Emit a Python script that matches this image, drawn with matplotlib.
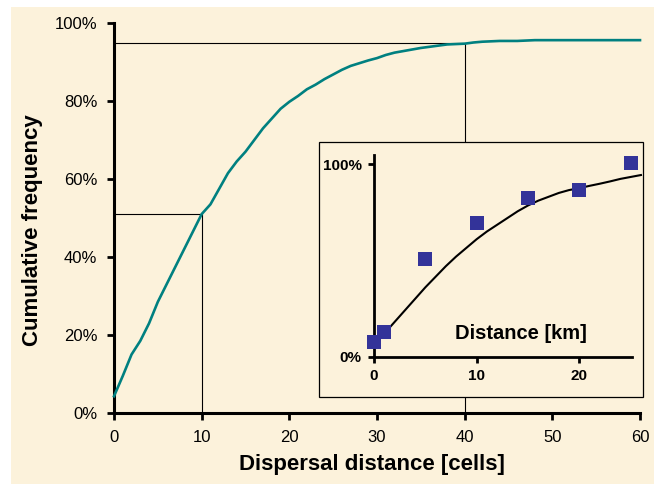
import matplotlib
matplotlib.use("Agg")
import matplotlib.pyplot as plt
from matplotlib.patches import Rectangle

plt.rcParams['font.family'] = ['Liberation Sans', 'DejaVu Sans']

# main curve: cumulative frequency vs dispersal distance (cells)
cells = list(range(0, 61))
cum_freq = [4.3, 9.5, 15.0, 18.5, 23.0, 28.5, 33.0, 37.5, 42.0, 46.5,
            51.0, 53.5, 57.5, 61.5, 64.5, 67.0, 70.0, 73.0, 75.5, 78.0,
            79.8, 81.3, 83.0, 84.2, 85.6, 86.8, 88.0, 89.0, 89.7, 90.4,
            91.0, 91.8, 92.4, 92.8, 93.2, 93.6, 93.9, 94.2, 94.5, 94.6,
            94.7, 95.0, 95.2, 95.3, 95.4, 95.4, 95.4, 95.5, 95.6, 95.6,
            95.6, 95.6, 95.6, 95.6, 95.6, 95.6, 95.6, 95.6, 95.6, 95.6,
            95.6]

# guide lines (x, y) for the two reference levels
guide_x = [10, 40]
guide_y = [51, 95]

# inset: observed points and fitted curve (km)
obs_km = [0, 1, 5, 10, 15, 20, 25]
obs_freq = [7.8, 13.0, 50.5, 69.2, 82.2, 86.5, 100.4]
fit_km = [1, 2, 3, 4, 5, 6, 7, 8, 9, 10, 11, 12, 13, 14, 15, 16, 17,
          18, 19, 20, 21, 22, 23, 24, 25, 26]
fit_freq = [12, 18, 24, 30, 36, 41.5, 47, 52, 56.5, 61, 65, 68.5, 72,
            75.5, 78.5, 81, 83, 85, 86.5, 87.5, 88.7, 89.8, 91, 92.3,
            93.3, 94.3]

paper = '#FCF2DB'

fig = plt.figure(figsize=(6.54, 4.84), dpi=100, facecolor='white')
fig.patches.append(Rectangle((11 / 654, 0), 1, 1 - 7 / 484,
                             transform=fig.transFigure, facecolor=paper,
                             edgecolor='none', zorder=-10))

ax = fig.add_axes([114 / 654, 1 - 413 / 484, 526 / 654, 390 / 484])
ax.set_facecolor('none')
ax.plot(cells, cum_freq, color='#008080', lw=1.9, clip_on=False, zorder=3)
for gx, gy in zip(guide_x, guide_y):
    ax.plot([0, gx, gx], [gy, gy, 0], color='black', lw=0.8, zorder=2)

ax.set_xlim(0, 60)
ax.set_ylim(0, 100)
ax.set_xticks(range(0, 61, 10))
ax.set_yticks(range(0, 101, 20))
ax.set_yticklabels([f'{v}%' for v in range(0, 101, 20)])
for s in ['top', 'right']:
    ax.spines[s].set_visible(False)
for s in ['left', 'bottom']:
    ax.spines[s].set_linewidth(2.2)
ax.tick_params(direction='out', length=5, width=2, labelsize=12, pad=7)
ax.set_xlabel('Dispersal distance [cells]', fontsize=16, fontweight='bold')
ax.set_ylabel('Cumulative frequency', fontsize=16, fontweight='bold')
ax.xaxis.set_label_coords(0.49, -0.105)
ax.yaxis.set_label_coords(-0.135, 0.47)

# inset frame
fig.patches.append(Rectangle((319 / 654, 1 - 397 / 484), 324 / 654, 255 / 484,
                             transform=fig.transFigure, facecolor=paper,
                             edgecolor='black', lw=0.9, zorder=5))

ins = fig.add_axes([374 / 654, 1 - 356.7 / 484, 257.7 / 654, 201.7 / 484])
ins.set_zorder(6)
ins.set_facecolor('none')
ins.plot(fit_km, fit_freq, color='black', lw=1.5, clip_on=False)
ins.plot(obs_km, obs_freq, 's', color='#333399', markersize=9.5,
         markeredgewidth=0, clip_on=False, zorder=4)
ins.set_xlim(0, 25.1)
ins.set_ylim(0, 104.7)
ins.set_xticks([0, 10, 20])
ins.set_yticks([0, 100])
ins.set_yticklabels(['0%', '100%'])
for s in ['top', 'right']:
    ins.spines[s].set_visible(False)
for s in ['left', 'bottom']:
    ins.spines[s].set_linewidth(2)
ins.tick_params(direction='out', length=4, width=2, labelsize=11, pad=5)
for lab in ins.get_xticklabels() + ins.get_yticklabels():
    lab.set_fontweight('bold')
ins.text(0.57, 0.115, 'Distance [km]', transform=ins.transAxes,
         ha='center', va='center', fontsize=14.5, fontweight='bold')

fig.savefig('out.png', dpi=100, facecolor='white')
